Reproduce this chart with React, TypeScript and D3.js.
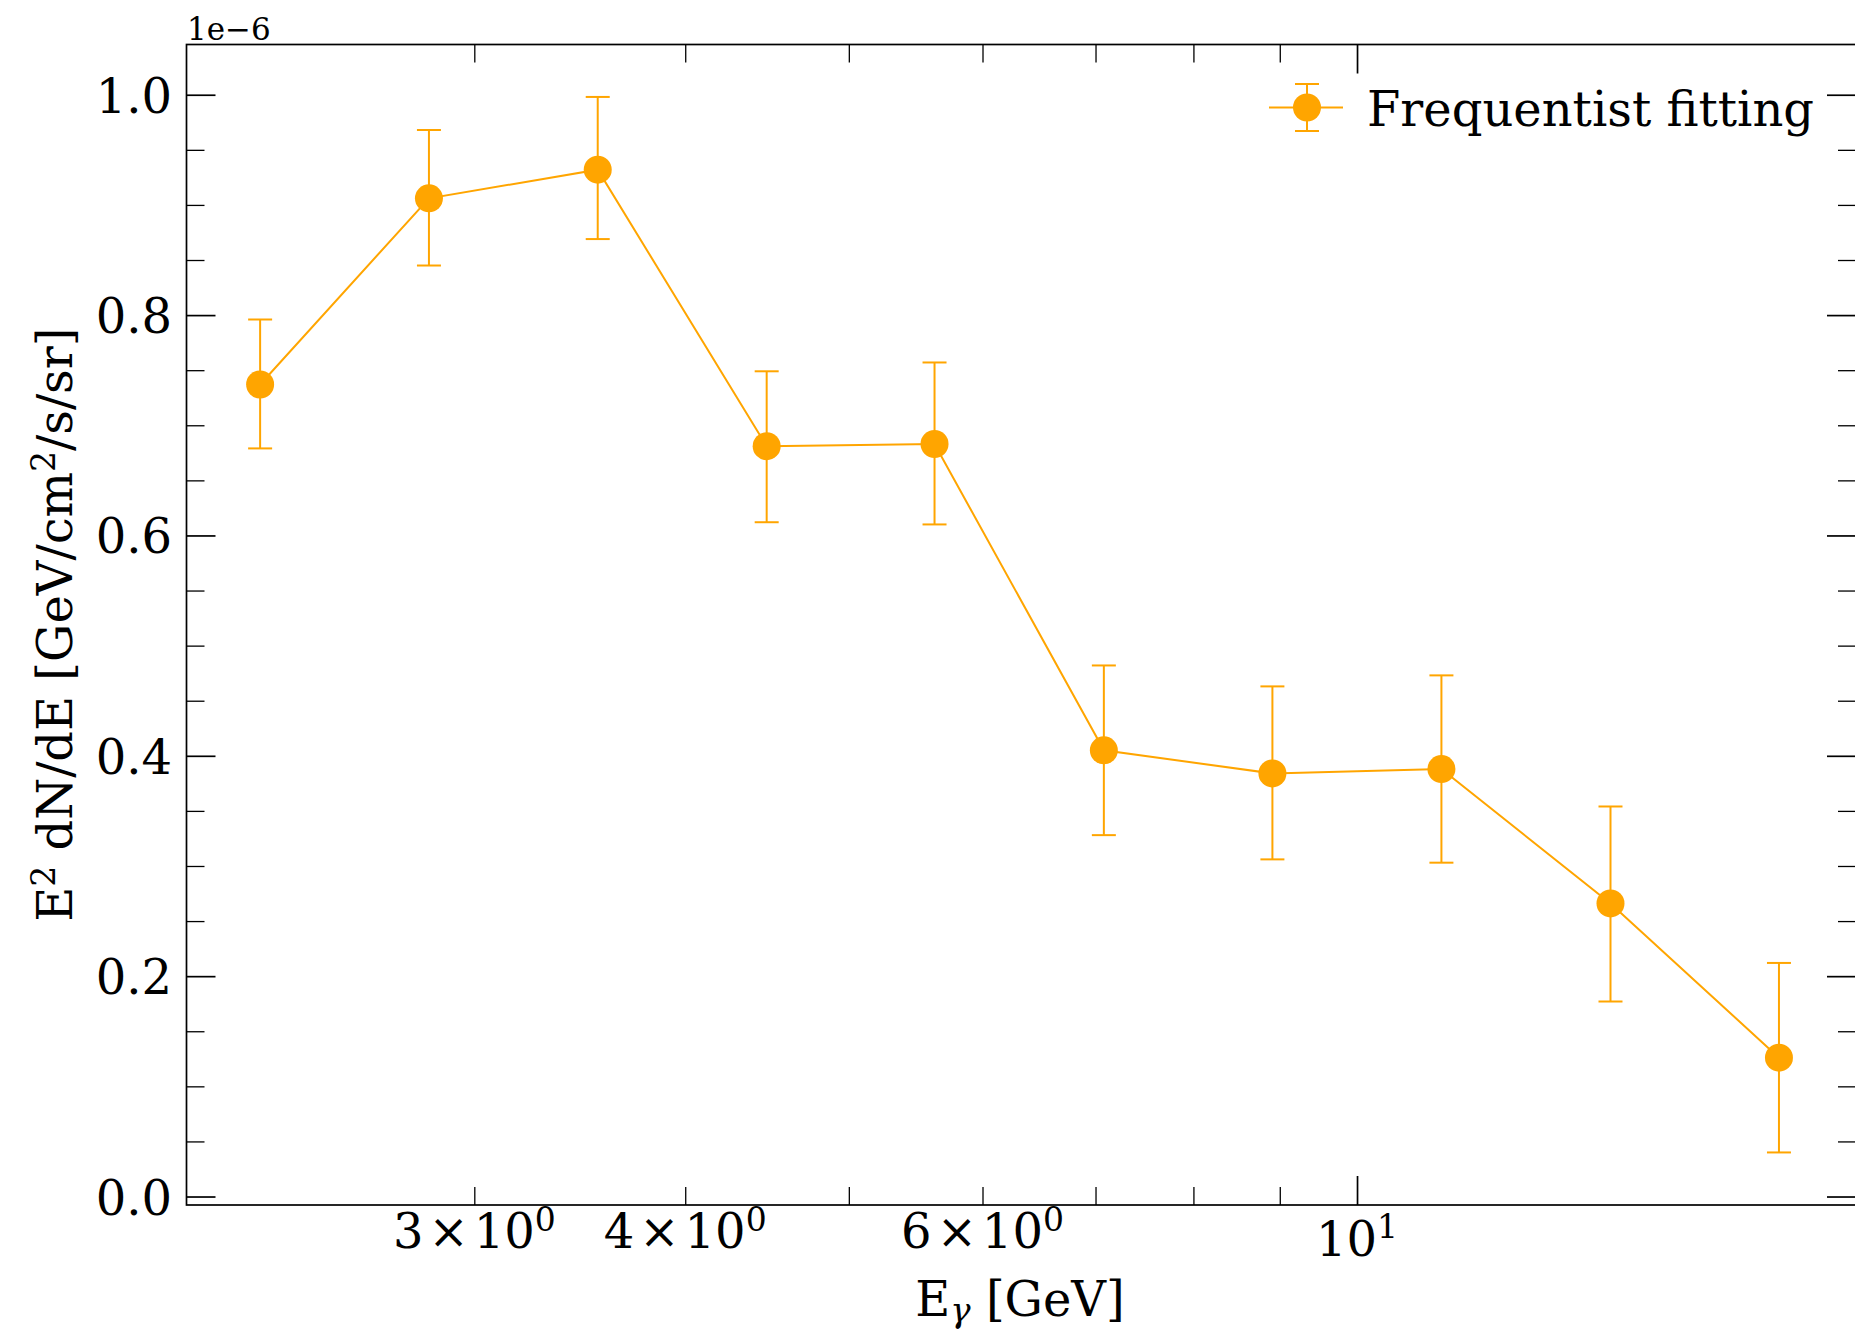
import React, { useEffect, useRef } from "react";
import * as d3 from "d3";

// spectral points (E in GeV, E^2 dN/dE in units of 1e-6)
const energyGeV = [2.24, 2.82, 3.55, 4.47, 5.62, 7.08, 8.91, 11.22, 14.13, 17.78];
const e2dnde = [0.737, 0.906, 0.932, 0.681, 0.683, 0.405, 0.384, 0.388, 0.266, 0.126];
const errHigh = [0.796, 0.968, 0.998, 0.749, 0.757, 0.482, 0.463, 0.473, 0.354, 0.212];
const errLow = [0.679, 0.845, 0.869, 0.612, 0.61, 0.328, 0.306, 0.303, 0.177, 0.04];

const xMajorTicks = [10];
const xMinorTicks = [3, 4, 5, 6, 7, 8, 9];
const xMinorLabels = [3, 4, 6];
const yMajorTicks = [0, 0.2, 0.4, 0.6, 0.8, 1.0];
const yMinorTicks = [
  0.05, 0.1, 0.15, 0.25, 0.3, 0.35, 0.45, 0.5, 0.55, 0.65, 0.7, 0.75, 0.85,
  0.9, 0.95,
];

const W = 1855;
const H = 1332;
const left = 186.5;
const right = 1856;
const top = 44.5;
const bottom = 1205;
const orange = "#ffa500";
const font = "DejaVu Serif";
const fs = 48;
const supFs = 33;

const x = d3.scaleLog().domain([2.026, 19.75]).range([left, right]);
const y = d3.scaleLinear().domain([-0.0077, 1.0456]).range([bottom, top]);

export default function App() {
  const axesRef = useRef<SVGGElement>(null);

  useEffect(() => {
    const g = d3.select(axesRef.current);
    g.selectAll("*").remove();

    const addTicks = (axis: any, transform: string, width: number) => {
      g.append("g")
        .attr("transform", transform)
        .attr("color", "#000")
        .call(axis)
        .call((s: any) => {
          s.select(".domain").remove();
          s.selectAll("text").remove();
          s.selectAll("line").attr("stroke-width", width);
        });
    };

    const major = 29;
    const minor = 18;
    const noLabel = () => "";

    // bottom + top
    addTicks(d3.axisBottom(x).tickValues(xMajorTicks).tickSizeInner(-major).tickSizeOuter(0).tickFormat(noLabel), `translate(0,${bottom})`, 1.7);
    addTicks(d3.axisBottom(x).tickValues(xMinorTicks).tickSizeInner(-minor).tickSizeOuter(0).tickFormat(noLabel), `translate(0,${bottom})`, 1.3);
    addTicks(d3.axisTop(x).tickValues(xMajorTicks).tickSizeInner(-major).tickSizeOuter(0).tickFormat(noLabel), `translate(0,${top})`, 1.7);
    addTicks(d3.axisTop(x).tickValues(xMinorTicks).tickSizeInner(-minor).tickSizeOuter(0).tickFormat(noLabel), `translate(0,${top})`, 1.3);
    // left + right
    addTicks(d3.axisLeft(y).tickValues(yMajorTicks).tickSizeInner(-major).tickSizeOuter(0).tickFormat(noLabel), `translate(${left},0)`, 1.7);
    addTicks(d3.axisLeft(y).tickValues(yMinorTicks).tickSizeInner(-minor).tickSizeOuter(0).tickFormat(noLabel), `translate(${left},0)`, 1.3);
    addTicks(d3.axisRight(y).tickValues(yMajorTicks).tickSizeInner(-major).tickSizeOuter(0).tickFormat(noLabel), `translate(${right},0)`, 1.7);
    addTicks(d3.axisRight(y).tickValues(yMinorTicks).tickSizeInner(-minor).tickSizeOuter(0).tickFormat(noLabel), `translate(${right},0)`, 1.3);
  }, []);

  const points = energyGeV.map((e, i) => ({ e, v: e2dnde[i], hi: errHigh[i], lo: errLow[i] }));
  const line = d3
    .line<{ e: number; v: number }>()
    .x((d) => x(d.e))
    .y((d) => y(d.v));

  const capHalf = 12;
  const r = 14;

  // legend handle position
  const lgX = 1307;
  const lgY = 107.5;

  return (
    <svg
      width={W}
      height={H}
      style={{ position: "absolute", left: 0, top: 0, background: "#fff" }}
      fontFamily={font}
    >
      <rect x={0} y={0} width={W} height={H} fill="#fff" />

      {/* data */}
      <path d={line(points) || ""} fill="none" stroke={orange} strokeWidth={2} />
      {points.map((d, i) => (
        <g key={i} stroke={orange} strokeWidth={2}>
          <line x1={x(d.e)} x2={x(d.e)} y1={y(d.lo)} y2={y(d.hi)} />
          <line x1={x(d.e) - capHalf} x2={x(d.e) + capHalf} y1={y(d.hi)} y2={y(d.hi)} />
          <line x1={x(d.e) - capHalf} x2={x(d.e) + capHalf} y1={y(d.lo)} y2={y(d.lo)} />
        </g>
      ))}
      {points.map((d, i) => (
        <circle key={i} cx={x(d.e)} cy={y(d.v)} r={r} fill={orange} />
      ))}

      {/* frame + ticks */}
      <rect x={left} y={top} width={right - left} height={bottom - top} fill="none" stroke="#000" strokeWidth={1.7} />
      <g ref={axesRef} />

      {/* y tick labels */}
      {yMajorTicks.map((v) => (
        <text key={v} x={172} y={y(v) + 18} textAnchor="end" fontSize={fs} fill="#000">
          {v.toFixed(1)}
        </text>
      ))}
      <text x={187} y={40} fontSize={31} fill="#000">
        1e−6
      </text>

      {/* x tick labels */}
      {xMinorLabels.map((v) => (
        <text key={v} x={x(v)} y={1248} textAnchor="middle" fontSize={fs} fill="#000">
          {v}
          <tspan dx={5}>×</tspan>
          <tspan dx={5}>10</tspan>
          <tspan dy={-17} fontSize={supFs}>0</tspan>
        </text>
      ))}
      {xMajorTicks.map((v) => (
        <text key={v} x={x(v)} y={1256} textAnchor="middle" fontSize={fs} fill="#000">
          10
          <tspan dy={-18} fontSize={supFs}>1</tspan>
        </text>
      ))}

      {/* axis labels */}
      <text x={1020} y={1316} textAnchor="middle" fontSize={fs} fill="#000">
        E
        <tspan dy={6} fontSize={34} fontStyle="italic">γ</tspan>
        <tspan dy={-6}> [GeV]</tspan>
      </text>
      <text
        transform={`translate(72,${(top + bottom) / 2}) rotate(-90)`}
        textAnchor="middle"
        fontSize={fs}
        fill="#000"
      >
        E
        <tspan dy={-17} fontSize={supFs}>2</tspan>
        <tspan dy={17}> dN/dE [GeV/cm</tspan>
        <tspan dy={-17} fontSize={supFs}>2</tspan>
        <tspan dy={17}>/s/sr]</tspan>
      </text>

      {/* legend */}
      <g stroke={orange} strokeWidth={2}>
        <line x1={lgX - 38} x2={lgX + 36} y1={lgY} y2={lgY} />
        <line x1={lgX} x2={lgX} y1={lgY - 23.5} y2={lgY + 23.5} />
        <line x1={lgX - capHalf} x2={lgX + capHalf} y1={lgY - 23.5} y2={lgY - 23.5} />
        <line x1={lgX - capHalf} x2={lgX + capHalf} y1={lgY + 23.5} y2={lgY + 23.5} />
      </g>
      <circle cx={lgX} cy={lgY} r={r} fill={orange} />
      <text x={1367} y={126} fontSize={fs} fill="#000">
        Frequentist fitting
      </text>
    </svg>
  );
}
